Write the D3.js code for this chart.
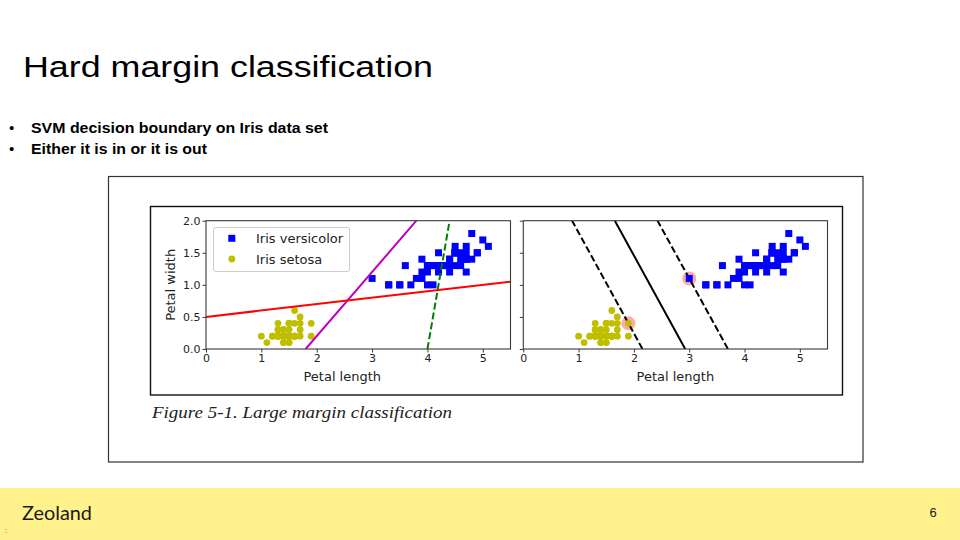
<!DOCTYPE html>
<html>
<head>
<meta charset="utf-8">
<script src="https://cdn.jsdelivr.net/npm/d3@7"></script>
<style>
  html, body { margin: 0; padding: 0; background: #fff; }
  svg { display: block; }
</style>
</head>
<body>
<svg id="slide" width="960" height="540"></svg>
<script>
// ---------------- data ----------------
const slideTitle = "Hard margin classification";
const bullets = ["SVM decision boundary on Iris data set", "Either it is in or it is out"];
const caption = "Figure 5-1. Large margin classification";
const footerBrand = "Zeoland";
const pageNumber = "6";

const seriesNames = ["Iris versicolor", "Iris setosa"];
const xTicks = [0, 1, 2, 3, 4, 5];
const yTicks = [0, 0.5, 1.0, 1.5, 2.0];
const xLabel = "Petal length";
const yLabel = "Petal width";

// Iris versicolor: petal length / petal width
const versicolorLength = [4.7,4.5,4.9,4.0,4.6,4.5,4.7,3.3,4.6,3.9,3.5,4.2,4.0,4.7,3.6,4.4,4.5,4.1,4.5,3.9,4.8,4.0,4.9,4.7,4.3,4.4,4.8,5.0,4.5,3.5,3.8,3.7,3.9,5.1,4.5,4.5,4.7,4.4,4.1,4.0,4.4,4.6,4.0,3.3,4.2,4.2,4.2,4.3,3.0,4.1];
const versicolorWidth  = [1.4,1.5,1.5,1.3,1.5,1.3,1.6,1.0,1.3,1.4,1.0,1.5,1.0,1.4,1.3,1.4,1.5,1.0,1.5,1.1,1.8,1.3,1.5,1.2,1.3,1.4,1.4,1.7,1.5,1.0,1.1,1.0,1.2,1.6,1.5,1.6,1.5,1.3,1.3,1.3,1.2,1.4,1.2,1.0,1.3,1.2,1.3,1.3,1.1,1.3];
// Iris setosa: petal length / petal width
const setosaLength = [1.4,1.4,1.3,1.5,1.4,1.7,1.4,1.5,1.4,1.5,1.5,1.6,1.4,1.1,1.2,1.5,1.3,1.4,1.7,1.5,1.7,1.5,1.0,1.7,1.9,1.6,1.6,1.5,1.4,1.6,1.6,1.5,1.5,1.4,1.5,1.2,1.3,1.4,1.3,1.5,1.3,1.3,1.3,1.6,1.9,1.4,1.6,1.4,1.5,1.4];
const setosaWidth  = [0.2,0.2,0.2,0.2,0.2,0.4,0.3,0.2,0.2,0.1,0.2,0.2,0.1,0.1,0.2,0.4,0.4,0.3,0.3,0.3,0.2,0.4,0.2,0.5,0.2,0.2,0.4,0.2,0.2,0.2,0.2,0.4,0.1,0.2,0.2,0.2,0.2,0.1,0.2,0.2,0.3,0.3,0.2,0.6,0.4,0.3,0.2,0.2,0.2,0.2];

// Left panel: three arbitrary separators (end points, x then y)
const badModelNames = ["green dashed", "magenta", "red"];
const badModelX = [[4.0, 4.4], [1.8, 3.8], [0.0, 5.5]];
const badModelY = [[0.0, 2.0], [0.0, 2.0], [0.5, 1.05]];

// Right panel: SVM boundary and margins (end points)
const svmLineNames = ["lower margin", "decision boundary", "upper margin"];
const svmLineX = [[2.155, 0.882], [2.927, 1.655], [3.700, 2.427]];
const svmLineY = [[0.0, 2.0], [0.0, 2.0], [0.0, 2.0]];
// Support vectors
const supportLength = [1.9, 3.0];
const supportWidth  = [0.4, 1.1];

// ---------------- styles ----------------
const C = {
  blue: "#0000ff", yellow: "#bfbf00", green: "#008000", magenta: "#bf00bf",
  red: "#ff0000", black: "#000", pink: "#ffaaaa", spine: "#3a3a3a", text: "#222"
};
const badModelStyle = [
  { color: C.green, dash: "7,3" },
  { color: C.magenta, dash: null },
  { color: C.red, dash: null }
];
const svmStyle = [
  { color: C.black, dash: "7,3" },
  { color: C.black, dash: null },
  { color: C.black, dash: "7,3" }
];

const svg = d3.select("#slide");

// ---------------- slide chrome ----------------
svg.append("text").text(slideTitle)
  .attr("x", 23).attr("y", 77)
  .attr("font-family", "Liberation Sans, Arial, sans-serif")
  .attr("font-size", 29).attr("fill", "#000")
  .attr("textLength", 410).attr("lengthAdjust", "spacingAndGlyphs");

bullets.forEach((b, i) => {
  const y = 133 + i * 21;
  svg.append("text").text("•").attr("x", 9).attr("y", y)
    .attr("font-family", "Liberation Sans, Arial, sans-serif").attr("font-size", 15).attr("fill", "#000");
  svg.append("text").text(b).attr("x", 31).attr("y", y)
    .attr("font-family", "Liberation Sans, Arial, sans-serif").attr("font-weight", "bold")
    .attr("font-size", 15).attr("fill", "#000")
    .attr("textLength", i === 0 ? 297 : 176).attr("lengthAdjust", "spacingAndGlyphs");
});

// outer picture frame
svg.append("rect").attr("x", 108.5).attr("y", 176.5).attr("width", 754.5).attr("height", 285.5)
  .attr("fill", "#fff").attr("stroke", "#333").attr("stroke-width", 1.2);
// inner figure frame
svg.append("rect").attr("x", 150.5).attr("y", 206.5).attr("width", 692).attr("height", 188.5)
  .attr("fill", "#fff").attr("stroke", "#111").attr("stroke-width", 1.4);

svg.append("text").text(caption)
  .attr("x", 152).attr("y", 418)
  .attr("font-family", "Liberation Serif, DejaVu Serif, serif").attr("font-style", "italic")
  .attr("font-size", 17).attr("fill", "#222")
  .attr("textLength", 300).attr("lengthAdjust", "spacingAndGlyphs");

// footer
svg.append("rect").attr("x", 0).attr("y", 488).attr("width", 960).attr("height", 52).attr("fill", "#fff18c");
svg.append("text").text(footerBrand).attr("x", 22).attr("y", 520)
  .attr("font-family", "Lato, Noto Sans, sans-serif").attr("font-size", 19).attr("fill", "#1a1a1a")
  .attr("textLength", 70).attr("lengthAdjust", "spacingAndGlyphs");
svg.append("text").text(pageNumber).attr("x", 933).attr("y", 517).attr("text-anchor", "middle")
  .attr("font-family", "Liberation Sans, Arial, sans-serif").attr("font-size", 13).attr("fill", "#222");
svg.append("text").text(":").attr("x", 5).attr("y", 533)
  .attr("font-family", "Liberation Sans, Arial, sans-serif").attr("font-size", 7).attr("fill", "#333");

// ---------------- panels ----------------
function panel(opts) {
  const x = d3.scaleLinear().domain([0, 5.5]).range([opts.left, opts.right]);
  const y = d3.scaleLinear().domain([0, 2]).range([opts.bottom, opts.top]);
  const g = svg.append("g");
  const clipId = "clip" + opts.id;
  svg.append("clipPath").attr("id", clipId).append("rect")
    .attr("x", opts.left).attr("y", opts.top)
    .attr("width", opts.right - opts.left).attr("height", opts.bottom - opts.top);

  // axes
  const xa = g.append("g").attr("transform", `translate(0,${opts.bottom})`)
    .call(d3.axisBottom(x).tickValues(xTicks).tickFormat(d3.format("d")).tickSize(3.5).tickPadding(2));
  const ya = g.append("g").attr("transform", `translate(${opts.left},0)`)
    .call(d3.axisLeft(y).tickValues(yTicks).tickFormat(opts.yLabels ? d3.format(".1f") : () => "").tickSize(3.5).tickPadding(2));
  [xa, ya].forEach(a => {
    a.select(".domain").remove();
    a.selectAll(".tick line").attr("stroke", C.spine).attr("stroke-width", 1);
    a.selectAll(".tick text").attr("font-family", "DejaVu Sans, sans-serif").attr("font-size", 11).attr("fill", C.text);
  });

  g.append("text").text(xLabel)
    .attr("x", (opts.left + opts.right) / 2 + opts.xLabelShift).attr("y", 381)
    .attr("text-anchor", "middle").attr("font-family", "DejaVu Sans, sans-serif")
    .attr("font-size", 13).attr("fill", C.text);
  if (opts.yLabels) {
    g.append("text").text(yLabel)
      .attr("transform", `translate(175,${(opts.top + opts.bottom) / 2}) rotate(-90)`)
      .attr("text-anchor", "middle").attr("font-family", "DejaVu Sans, sans-serif")
      .attr("font-size", 13).attr("fill", C.text);
  }
  const plot = g.append("g").attr("clip-path", `url(#${clipId})`);
  return { x, y, g, plot, opts };
}

function drawLines(p, xs, ys, styles) {
  const line = d3.line().x(d => p.x(d[0])).y(d => p.y(d[1]));
  xs.forEach((xv, i) => {
    p.plot.append("path").datum(xv.map((v, j) => [v, ys[i][j]]))
      .attr("d", line).attr("fill", "none")
      .attr("stroke", styles[i].color).attr("stroke-width", 2)
      .attr("stroke-dasharray", styles[i].dash);
  });
}

function drawPoints(p) {
  const vers = versicolorLength.map((v, i) => [v, versicolorWidth[i]]);
  const seto = setosaLength.map((v, i) => [v, setosaWidth[i]]);
  const s = 7;
  p.plot.append("g").selectAll("rect").data(vers).join("rect")
    .attr("x", d => p.x(d[0]) - s / 2).attr("y", d => p.y(d[1]) - s / 2)
    .attr("width", s).attr("height", s).attr("fill", C.blue);
  p.plot.append("g").selectAll("circle").data(seto).join("circle")
    .attr("cx", d => p.x(d[0])).attr("cy", d => p.y(d[1])).attr("r", 3.4).attr("fill", C.yellow);
}

function frame(p) {
  const o = p.opts;
  p.g.append("rect").attr("x", o.left).attr("y", o.top)
    .attr("width", o.right - o.left).attr("height", o.bottom - o.top)
    .attr("fill", "none").attr("stroke", C.spine).attr("stroke-width", 1.1);
}

// Left panel
const L = panel({ id: "L", left: 206, right: 510.5, top: 220.7, bottom: 349, yLabels: true, xLabelShift: -16 });
drawPoints(L);
drawLines(L, badModelX, badModelY, badModelStyle);
frame(L);

// legend
const lg = L.g.append("g");
lg.append("rect").attr("x", 213.5).attr("y", 227.5).attr("width", 136).attr("height", 44).attr("rx", 2.5)
  .attr("fill", "#fff").attr("fill-opacity", 0.85).attr("stroke", "#cccccc").attr("stroke-width", 1);
lg.append("rect").attr("x", 228.3).attr("y", 234.8).attr("width", 7).attr("height", 7).attr("fill", C.blue);
lg.append("circle").attr("cx", 231.8).attr("cy", 259).attr("r", 3.4).attr("fill", C.yellow);
seriesNames.forEach((n, i) => {
  lg.append("text").text(n).attr("x", 256).attr("y", 243 + i * 20.7)
    .attr("font-family", "DejaVu Sans, sans-serif").attr("font-size", 13).attr("fill", C.text);
});

// Right panel
const R = panel({ id: "R", left: 523.3, right: 827.5, top: 220.7, bottom: 349, yLabels: false, xLabelShift: 0 });
R.plot.append("g").selectAll("circle").data(supportLength.map((v, i) => [v, supportWidth[i]])).join("circle")
  .attr("cx", d => R.x(d[0])).attr("cy", d => R.y(d[1])).attr("r", 7).attr("fill", C.pink);
drawLines(R, svmLineX, svmLineY, svmStyle);
drawPoints(R);
frame(R);
</script>
</body>
</html>
